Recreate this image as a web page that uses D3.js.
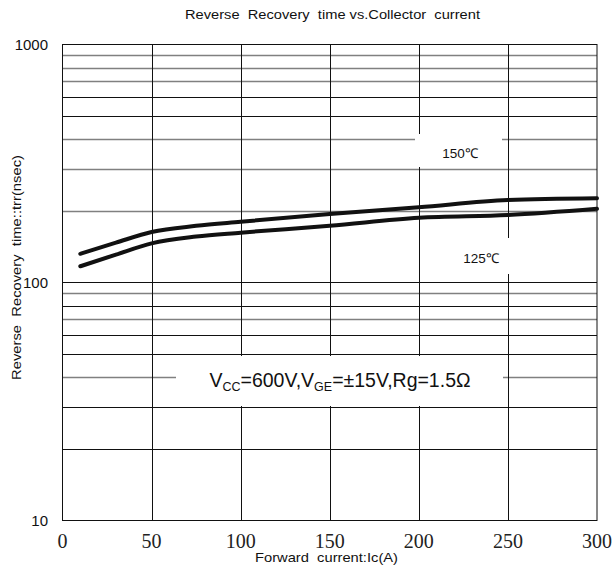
<!DOCTYPE html>
<html>
<head>
<meta charset="utf-8">
<script src="https://cdn.jsdelivr.net/npm/d3@7/dist/d3.min.js"></script>
<style>
  html, body { margin: 0; padding: 0; background: #fff; }
  svg { display: block; }
  text.sans { font-family: "Liberation Sans", Arial, sans-serif; fill: #111; }
  text.serif { font-family: "Liberation Serif", "Times New Roman", serif; fill: #222; }
</style>
</head>
<body>
<svg id="chart" width="612" height="570"></svg>
<script>
// ---- data ----
const title = "Reverse  Recovery  time vs.Collector  current";
const xTitle = "Forward  current:Ic(A)";
const yTitle = "Reverse  Recovery  time::trr(nsec)";
const xTicks = [0, 50, 100, 150, 200, 250, 300];
const yTicks = [10, 100, 1000];
const yGridDark = [20, 30, 50, 60, 80, 100, 500, 600];
const yGridGray = [40, 70, 90, 200, 300, 400, 700, 800, 900];
const current = [10, 30, 50, 75, 100, 150, 200, 250, 300];
const trr150 = [132, 147, 163, 173, 180, 194, 207, 222, 226];
const trr125 = [117, 131, 146, 156, 162, 173, 187, 192, 204];
const seriesLabels = ["150\u2103", "125\u2103"];

// ---- layout ----
const svg = d3.select("#chart");
const L = 62.5, R = 597, T = 44.5, B = 520.5;
const x = d3.scaleLinear().domain([0, 300]).range([L, R]);
const y = d3.scaleLog().domain([10, 1000]).range([B, T]);

// grid
const g = svg.append("g");
g.selectAll("line.hg").data(yGridGray).join("line").attr("class", "hg")
  .attr("x1", L).attr("x2", R)
  .attr("y1", d => Math.round(y(d)) + 0.5).attr("y2", d => Math.round(y(d)) + 0.5)
  .attr("stroke", "#808080").attr("stroke-width", 1.4);
g.selectAll("line.hd").data(yGridDark).join("line").attr("class", "hd")
  .attr("x1", L).attr("x2", R)
  .attr("y1", d => Math.round(y(d)) + 0.5).attr("y2", d => Math.round(y(d)) + 0.5)
  .attr("stroke", "#111").attr("stroke-width", 1);
g.selectAll("line.v").data(xTicks.slice(1, -1)).join("line").attr("class", "v")
  .attr("x1", d => Math.round(x(d)) + 0.5).attr("x2", d => Math.round(x(d)) + 0.5)
  .attr("y1", T).attr("y2", B)
  .attr("stroke", "#111").attr("stroke-width", 1);

// white masks behind labels
svg.append("rect").attr("x", 415).attr("y", 134).attr("width", 87).attr("height", 33).attr("fill", "#fff");
svg.append("rect").attr("x", 452).attr("y", 238).attr("width", 62).attr("height", 36).attr("fill", "#fff");
svg.append("rect").attr("x", 176).attr("y", 356).attr("width", 327).attr("height", 50).attr("fill", "#fff");

// frame
svg.append("rect").attr("x", L).attr("y", T).attr("width", R - L).attr("height", B - T)
  .attr("fill", "none").attr("stroke", "#111").attr("stroke-width", 1);

// curves
const line = d3.line().x(d => x(d[0])).y(d => y(d[1])).curve(d3.curveMonotoneX);
[trr150, trr125].forEach(s => {
  svg.append("path").datum(current.map((c, i) => [c, s[i]]))
    .attr("d", line).attr("fill", "none").attr("stroke", "#111")
    .attr("stroke-width", 4).attr("stroke-linecap", "round");
});

// axes tick labels
svg.selectAll("text.yt").data(yTicks).join("text").attr("class", "sans yt")
  .attr("x", 48).attr("y", d => y(d) + 5).attr("text-anchor", "end")
  .style("font-size", "15px").text(d => d);
svg.selectAll("text.xt").data(xTicks).join("text").attr("class", "serif xt")
  .attr("x", d => x(d)).attr("y", 548).attr("text-anchor", "middle")
  .style("font-size", "20px").text(d => d);

// titles
svg.append("text").attr("class", "sans").attr("x", 185).attr("y", 19)
  .attr("textLength", 295).attr("lengthAdjust", "spacingAndGlyphs")
  .style("font-size", "12.5px").style("white-space", "pre").text(title);
svg.append("text").attr("class", "sans").attr("x", 255).attr("y", 562)
  .attr("textLength", 143).attr("lengthAdjust", "spacingAndGlyphs")
  .style("font-size", "13px").style("white-space", "pre").text(xTitle);
svg.append("text").attr("class", "sans").attr("transform", "translate(21,380) rotate(-90)")
  .attr("textLength", 225).attr("lengthAdjust", "spacingAndGlyphs")
  .style("font-size", "13px").style("white-space", "pre").text(yTitle);

// series labels
svg.append("text").attr("class", "sans").attr("x", 460).attr("y", 158).attr("text-anchor", "middle")
  .style("font-size", "13.5px").text(seriesLabels[0]);
svg.append("text").attr("class", "sans").attr("x", 481).attr("y", 263).attr("text-anchor", "middle")
  .style("font-size", "13.5px").text(seriesLabels[1]);

// condition annotation
const ann = svg.append("text").attr("class", "sans").attr("x", 340).attr("y", 387).attr("text-anchor", "middle")
  .style("font-size", "19.5px");
ann.append("tspan").text("V");
ann.append("tspan").attr("dy", 4).style("font-size", "12.5px").text("CC");
ann.append("tspan").attr("dy", -4).text("=600V,V");
ann.append("tspan").attr("dy", 4).style("font-size", "12.5px").text("GE");
ann.append("tspan").attr("dy", -4).text("=\u00b115V,Rg=1.5\u03a9");
</script>
</body>
</html>
